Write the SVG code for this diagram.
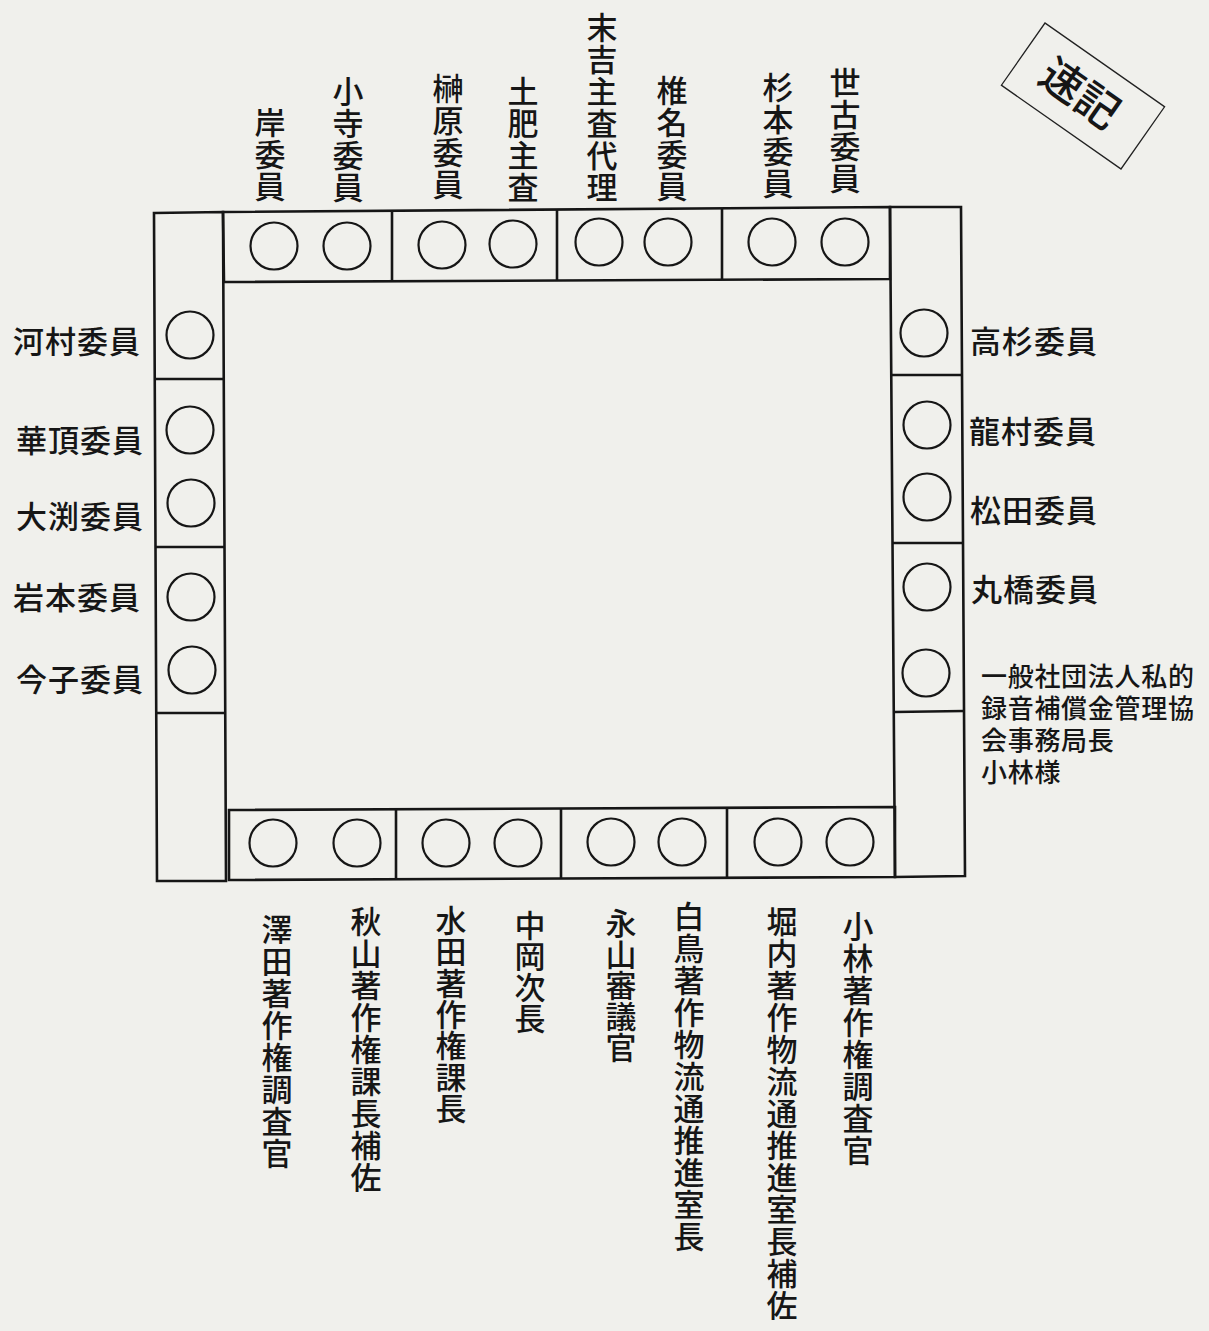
<svg xmlns="http://www.w3.org/2000/svg" width="1209" height="1331" viewBox="0 0 1209 1331">
<style>
.bg{fill:#f0f0ec}
.tbl{fill:none;stroke:#161616;stroke-width:2.6;stroke-linejoin:miter}
.seat{fill:none;stroke:#161616;stroke-width:2.2}
text{font-family:"Noto Sans CJK JP","Noto Sans CJK SC",sans-serif;fill:#161616;font-weight:500}
.h{font-size:31px;letter-spacing:1px}
.v{font-size:31px;text-anchor:middle}
.s{font-size:26px;letter-spacing:0.7px}
.stamp{fill:none;stroke:#222;stroke-width:1.3}
.st{font-size:43px;text-anchor:middle;font-weight:500}
</style>
<rect class="bg" x="0" y="0" width="1209" height="1331"/>

<g id="tables">
  <polygon class="tbl" points="154,213 223,212 226,881 157,881"/>
  <line class="tbl" x1="154" y1="379" x2="224" y2="379"/>
  <line class="tbl" x1="155" y1="547" x2="225" y2="547"/>
  <line class="tbl" x1="156" y1="713" x2="226" y2="713"/>
  <polygon class="tbl" points="890,207 961,207 965,876 895,877"/>
  <line class="tbl" x1="891" y1="375" x2="962" y2="375"/>
  <line class="tbl" x1="892" y1="543" x2="963" y2="543"/>
  <line class="tbl" x1="894" y1="712" x2="964" y2="711"/>
  <polygon class="tbl" points="223,212 890,207 890,279 224,282"/>
  <line class="tbl" x1="392" y1="211" x2="392" y2="281"/>
  <line class="tbl" x1="557" y1="210" x2="557" y2="280"/>
  <line class="tbl" x1="722" y1="208" x2="722" y2="279"/>
  <polygon class="tbl" points="229,810 895,807 895,877 229,880"/>
  <line class="tbl" x1="396" y1="809" x2="396" y2="879"/>
  <line class="tbl" x1="561" y1="809" x2="561" y2="879"/>
  <line class="tbl" x1="727" y1="808" x2="727" y2="878"/>
</g>

<g id="top-seats">
  <g id="seat-kishi"><circle class="seat" cx="274" cy="246" r="23.5"/>
    <text class="v" x="270" y="134"><tspan x="270">岸</tspan><tspan x="270" dy="32">委</tspan><tspan x="270" dy="32">員</tspan></text></g>
  <g id="seat-kodera"><circle class="seat" cx="347" cy="246" r="23.5"/>
    <text class="v" x="348" y="103"><tspan x="348">小</tspan><tspan x="348" dy="32">寺</tspan><tspan x="348" dy="32">委</tspan><tspan x="348" dy="32">員</tspan></text></g>
  <g id="seat-sakakibara"><circle class="seat" cx="442" cy="245" r="23.5"/>
    <text class="v" x="448" y="100"><tspan x="448">榊</tspan><tspan x="448" dy="32">原</tspan><tspan x="448" dy="32">委</tspan><tspan x="448" dy="32">員</tspan></text></g>
  <g id="seat-doi"><circle class="seat" cx="513" cy="244" r="23.5"/>
    <text class="v" x="523" y="103"><tspan x="523">土</tspan><tspan x="523" dy="32">肥</tspan><tspan x="523" dy="32">主</tspan><tspan x="523" dy="32">査</tspan></text></g>
  <g id="seat-sueyoshi"><circle class="seat" cx="599" cy="242" r="23.5"/>
    <text class="v" x="602" y="39"><tspan x="602">末</tspan><tspan x="602" dy="32">吉</tspan><tspan x="602" dy="32">主</tspan><tspan x="602" dy="32">査</tspan><tspan x="602" dy="32">代</tspan><tspan x="602" dy="32">理</tspan></text></g>
  <g id="seat-shiina"><circle class="seat" cx="668" cy="242" r="23.5"/>
    <text class="v" x="672" y="102"><tspan x="672">椎</tspan><tspan x="672" dy="32">名</tspan><tspan x="672" dy="32">委</tspan><tspan x="672" dy="32">員</tspan></text></g>
  <g id="seat-sugimoto"><circle class="seat" cx="772" cy="242" r="23.5"/>
    <text class="v" x="778" y="99"><tspan x="778">杉</tspan><tspan x="778" dy="32">本</tspan><tspan x="778" dy="32">委</tspan><tspan x="778" dy="32">員</tspan></text></g>
  <g id="seat-seko"><circle class="seat" cx="845" cy="242" r="23.5"/>
    <text class="v" x="845" y="94"><tspan x="845">世</tspan><tspan x="845" dy="32">古</tspan><tspan x="845" dy="32">委</tspan><tspan x="845" dy="32">員</tspan></text></g>
</g>

<g id="left-seats">
  <g id="seat-kawamura"><circle class="seat" cx="190" cy="335" r="23.5"/><text class="h" x="13" y="353">河村委員</text></g>
  <g id="seat-hanachou"><circle class="seat" cx="190" cy="430" r="23.5"/><text class="h" x="16" y="452">華頂委員</text></g>
  <g id="seat-oobuchi"><circle class="seat" cx="191" cy="503" r="23.5"/><text class="h" x="16" y="528">大渕委員</text></g>
  <g id="seat-iwamoto"><circle class="seat" cx="191" cy="597" r="23.5"/><text class="h" x="13" y="609">岩本委員</text></g>
  <g id="seat-imako"><circle class="seat" cx="192" cy="670" r="23.5"/><text class="h" x="16" y="691">今子委員</text></g>
</g>

<g id="right-seats">
  <g id="seat-takasugi"><circle class="seat" cx="924" cy="333" r="23.5"/><text class="h" x="970" y="353">高杉委員</text></g>
  <g id="seat-tatsumura"><circle class="seat" cx="927" cy="425" r="23.5"/><text class="h" x="969" y="443">龍村委員</text></g>
  <g id="seat-matsuda"><circle class="seat" cx="927" cy="497" r="23.5"/><text class="h" x="970" y="522">松田委員</text></g>
  <g id="seat-maruhashi"><circle class="seat" cx="927" cy="587" r="23.5"/><text class="h" x="971" y="601">丸橋委員</text></g>
  <g id="seat-kobayashi-guest"><circle class="seat" cx="926" cy="673" r="23.5"/>
    <text class="s" x="981" y="686"><tspan x="981">一般社団法人私的</tspan><tspan x="981" dy="32">録音補償金管理協</tspan><tspan x="981" dy="32">会事務局長</tspan><tspan x="981" dy="32">小林様</tspan></text></g>
</g>

<g id="bottom-seats">
  <g id="seat-sawada"><circle class="seat" cx="273" cy="843" r="23.5"/>
    <text class="v" x="277" y="941"><tspan x="277">澤</tspan><tspan x="277" dy="32">田</tspan><tspan x="277" dy="32">著</tspan><tspan x="277" dy="32">作</tspan><tspan x="277" dy="32">権</tspan><tspan x="277" dy="32">調</tspan><tspan x="277" dy="32">査</tspan><tspan x="277" dy="32">官</tspan></text></g>
  <g id="seat-akiyama"><circle class="seat" cx="357" cy="843" r="23.5"/>
    <text class="v" x="366" y="933"><tspan x="366">秋</tspan><tspan x="366" dy="32">山</tspan><tspan x="366" dy="32">著</tspan><tspan x="366" dy="32">作</tspan><tspan x="366" dy="32">権</tspan><tspan x="366" dy="32">課</tspan><tspan x="366" dy="32">長</tspan><tspan x="366" dy="32">補</tspan><tspan x="366" dy="32">佐</tspan></text></g>
  <g id="seat-mizuta"><circle class="seat" cx="446" cy="843" r="23.5"/>
    <text class="v" x="451" y="932"><tspan x="451">水</tspan><tspan x="451" dy="31.3">田</tspan><tspan x="451" dy="31.3">著</tspan><tspan x="451" dy="31.3">作</tspan><tspan x="451" dy="31.3">権</tspan><tspan x="451" dy="31.3">課</tspan><tspan x="451" dy="31.3">長</tspan></text></g>
  <g id="seat-nakaoka"><circle class="seat" cx="518" cy="843" r="23.5"/>
    <text class="v" x="530" y="937"><tspan x="530">中</tspan><tspan x="530" dy="31">岡</tspan><tspan x="530" dy="31">次</tspan><tspan x="530" dy="31">長</tspan></text></g>
  <g id="seat-nagayama"><circle class="seat" cx="611" cy="842" r="23.5"/>
    <text class="v" x="621" y="935"><tspan x="621">永</tspan><tspan x="621" dy="31">山</tspan><tspan x="621" dy="31">審</tspan><tspan x="621" dy="31">議</tspan><tspan x="621" dy="31">官</tspan></text></g>
  <g id="seat-shiratori"><circle class="seat" cx="682" cy="842" r="23.5"/>
    <text class="v" x="689" y="928"><tspan x="689">白</tspan><tspan x="689" dy="32">鳥</tspan><tspan x="689" dy="32">著</tspan><tspan x="689" dy="32">作</tspan><tspan x="689" dy="32">物</tspan><tspan x="689" dy="32">流</tspan><tspan x="689" dy="32">通</tspan><tspan x="689" dy="32">推</tspan><tspan x="689" dy="32">進</tspan><tspan x="689" dy="32">室</tspan><tspan x="689" dy="32">長</tspan></text></g>
  <g id="seat-horiuchi"><circle class="seat" cx="778" cy="842" r="23.5"/>
    <text class="v" x="782" y="933"><tspan x="782">堀</tspan><tspan x="782" dy="32">内</tspan><tspan x="782" dy="32">著</tspan><tspan x="782" dy="32">作</tspan><tspan x="782" dy="32">物</tspan><tspan x="782" dy="32">流</tspan><tspan x="782" dy="32">通</tspan><tspan x="782" dy="32">推</tspan><tspan x="782" dy="32">進</tspan><tspan x="782" dy="32">室</tspan><tspan x="782" dy="32">長</tspan><tspan x="782" dy="32">補</tspan><tspan x="782" dy="32">佐</tspan></text></g>
  <g id="seat-kobayashi"><circle class="seat" cx="850" cy="842" r="23.5"/>
    <text class="v" x="858" y="938"><tspan x="858">小</tspan><tspan x="858" dy="32">林</tspan><tspan x="858" dy="32">著</tspan><tspan x="858" dy="32">作</tspan><tspan x="858" dy="32">権</tspan><tspan x="858" dy="32">調</tspan><tspan x="858" dy="32">査</tspan><tspan x="858" dy="32">官</tspan></text></g>
</g>

<g id="stenographer" transform="translate(1083,96) rotate(35)">
  <rect class="stamp" x="-73" y="-38" width="146" height="76"/>
  <text class="st" x="-4" y="15">速記</text>
</g>

<g id="connectors"></g>
</svg>
